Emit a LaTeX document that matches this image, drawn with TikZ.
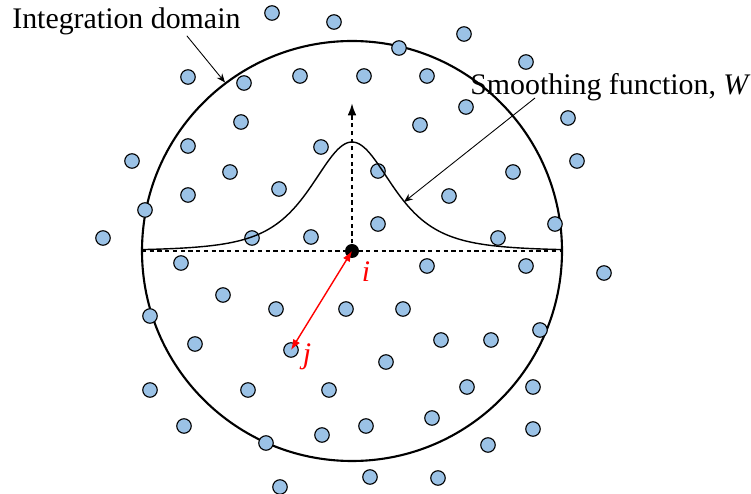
\documentclass[tikz,border=0pt]{standalone}
\usepackage{fontspec}
\setmainfont{Liberation Serif}
\usepackage{tikz}
\usetikzlibrary{arrows.meta}

\definecolor{partblue}{RGB}{155,194,230}
\tikzset{
  particle/.style={circle, draw=black, line width=0.65pt, fill=partblue, minimum size=0.29cm, inner sep=0pt},
  label text/.style={font=\fontsize{17}{20}\selectfont, inner sep=0pt},
  pointer/.style={-{Stealth[length=5pt, width=4pt]}, line width=0.5pt},
  axis line/.style={line width=1.2pt, dash pattern=on 2.4pt off 2pt}
}

\begin{document}
\begin{tikzpicture}
    \useasboundingbox (-7.04, -4.86) rectangle (7.98, 5.02);
    \node[label text, anchor=base west] (dlabel) at (-6.80, 4.44) {Integration domain};
    \node[label text, anchor=base west] (wlabel) at (2.36, 3.12) {Smoothing function, \textit{W}};
    \node[draw, circle, line width=1.2pt, minimum size=8.4cm, inner sep=0pt] (dom) at (0, 0) {};
    \coordinate (west) at (-4.2, 0);
    \coordinate (east) at (4.2, 0);
    \coordinate (top) at (0, 2.96);
    \coordinate (wtip) at (1.04, 0.98);
    \foreach \x/\y [count=\n] in {-1.60/4.76, -0.36/4.58, 2.24/4.34, 0.94/4.06, 3.48/3.78,
        -3.28/3.48, -2.16/3.36, -1.04/3.50, 0.24/3.50, 1.50/3.50, 2.28/2.88, 1.36/2.52,
        4.32/2.66, -2.22/2.58, -3.28/2.10, -0.62/2.08, -4.40/1.80, 4.50/1.80, -2.44/1.58,
        0.52/1.60, 3.22/1.58, -1.46/1.24, -3.28/1.12, 1.94/1.10, -4.14/0.82, 4.06/0.54,
        0.52/0.54, -4.98/0.26, -2.00/0.26, -0.82/0.28, 2.92/0.26, -3.42/-0.24, 1.50/-0.30,
        3.48/-0.30, 5.04/-0.44, -2.58/-0.88, -1.52/-1.16, -0.12/-1.16, 1.02/-1.16,
        -4.04/-1.30, 3.76/-1.58, 1.78/-1.78, 2.78/-1.78, -3.14/-1.86, 0.68/-2.22,
        -4.04/-2.78, -2.08/-2.78, -0.46/-2.78, 2.30/-2.72, 3.62/-2.72, 1.60/-3.34,
        -3.36/-3.50, 0.28/-3.50, 3.62/-3.56, -0.60/-3.68, -1.72/-3.84, 2.72/-3.88,
        -1.44/-4.72, 0.36/-4.52, 1.72/-4.54}
        \node[particle] (p\n) at (\x, \y) {};
    \node[particle] (pj) at (-1.22, -1.98) {};
    \draw[line width=0.8pt, domain=-4.2:4.2, samples=200, smooth] plot (\x, {2.18/(1+(\x/1.5)^2)^2});
    \draw[axis line] (west) -- (east);
    \node[circle, fill=black, minimum size=0.28cm, inner sep=0pt] (pi) at (0, 0) {};
    \draw[axis line, -{Latex[length=7pt, width=5pt]}] (pi.center) -- (top);
    \draw[pointer] ([xshift=-1.08cm]dlabel.south east) -- (dom.127);
    \draw[pointer] ([xshift=1.30cm, yshift=-0.06cm]wlabel.base west) -- (wtip);
    \draw[red, line width=0.8pt, {Latex[length=6pt, width=4.5pt]}-{Latex[length=6pt, width=4.5pt]}] (pi.center) -- (pj.center);
    \node[label text, red] (ilabel) at (0.28, -0.42) {\textit{i}};
    \node[label text, red] (jlabel) at (-0.90, -2.12) {\textit{j}};
\end{tikzpicture}
\end{document}
